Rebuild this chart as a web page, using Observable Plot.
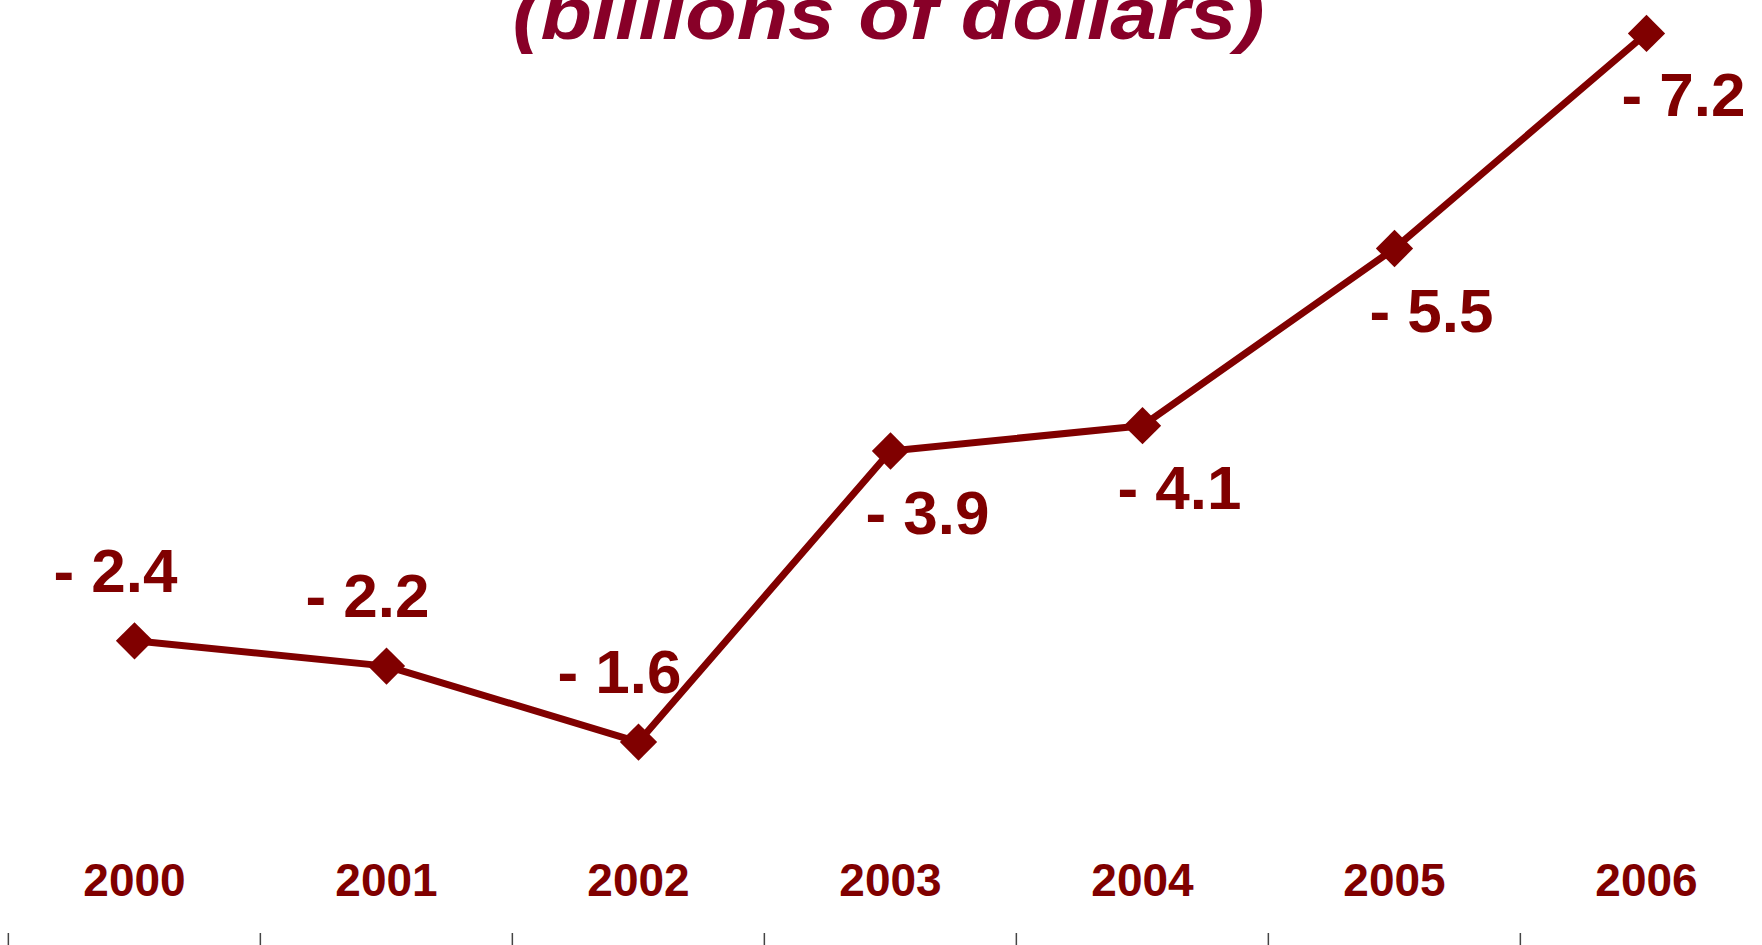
<!DOCTYPE html>
<html>
<head>
<meta charset="utf-8">
<script src="https://cdn.jsdelivr.net/npm/d3@7"></script>
<script src="https://cdn.jsdelivr.net/npm/@observablehq/plot@0.6"></script>
<style>
  html, body { margin: 0; padding: 0; background: white; }
  #chart svg { display: block; }
</style>
</head>
<body>
<div id="chart"></div>
<script>
// Data
const years = ["2000", "2001", "2002", "2003", "2004", "2005", "2006"];
const values = [-2.4, -2.2, -1.6, -3.9, -4.1, -5.5, -7.2];
const labelSide = ["above", "above", "above", "below", "below", "below", "below"];
const titleText = "(billions of dollars)";

const data = years.map((year, i) => ({year, value: values[i], side: labelSide[i]}));
const fmt = d => "- " + Math.abs(d.value).toFixed(1);

const W = 1762, H = 945;
const dark = "#800000";
const font = "'Liberation Sans', Arial, Helvetica, sans-serif";
const xRange = [7, 1773];
const bandStep = (xRange[1] - xRange[0]) / years.length;

const chart = Plot.plot({
  width: W,
  height: H,
  marginTop: 0, marginRight: 0, marginBottom: 0, marginLeft: 0,
  style: {background: "white", fontFamily: font, overflow: "hidden"},
  x: {type: "band", domain: years, range: xRange, padding: 0, axis: null},
  y: {domain: [0, -7.46], range: [944, 0], axis: null},
  marks: [
    // tick marks at category boundaries along the bottom edge
    Plot.ruleX(years, {x: d => d, dx: -bandStep / 2, insetTop: 933, stroke: "#444", strokeWidth: 1.5}),
    // title (clipped at the top as in the reference)
    Plot.text([titleText], {
      frameAnchor: "top", dx: 7, dy: 38, lineAnchor: "bottom",
      text: d => d, fontSize: 75, fontWeight: "bold", fontStyle: "italic",
      fill: "#880028", className: "title-text"
    }),
    Plot.line(data, {x: "year", y: "value", stroke: dark, strokeWidth: 7}),
    Plot.dot(data, {x: "year", y: "value", symbol: "diamond2", r: 16.8, fill: dark, stroke: "none"}),
    Plot.text(data.filter(d => d.side === "above"), {
      x: "year", y: "value", text: fmt, dx: -19, dy: -49, lineAnchor: "bottom",
      fontSize: 62, fontWeight: "bold", fill: dark
    }),
    Plot.text(data.filter(d => d.side === "below"), {
      x: "year", y: "value", text: fmt, dx: 37, dy: 83, lineAnchor: "bottom",
      fontSize: 62, fontWeight: "bold", fill: dark
    }),
    // year labels
    Plot.text(data, {
      x: "year", frameAnchor: "bottom", dy: -50, lineAnchor: "bottom",
      text: "year", fontSize: 46, fontWeight: "bold", fill: dark
    })
  ]
});

document.getElementById("chart").appendChild(chart);

// stretch the title to the reference's wide heavy lettering
d3.select(chart).selectAll("g.title-text text, .title-text text")
  .attr("textLength", 752)
  .attr("lengthAdjust", "spacingAndGlyphs");
</script>
</body>
</html>
